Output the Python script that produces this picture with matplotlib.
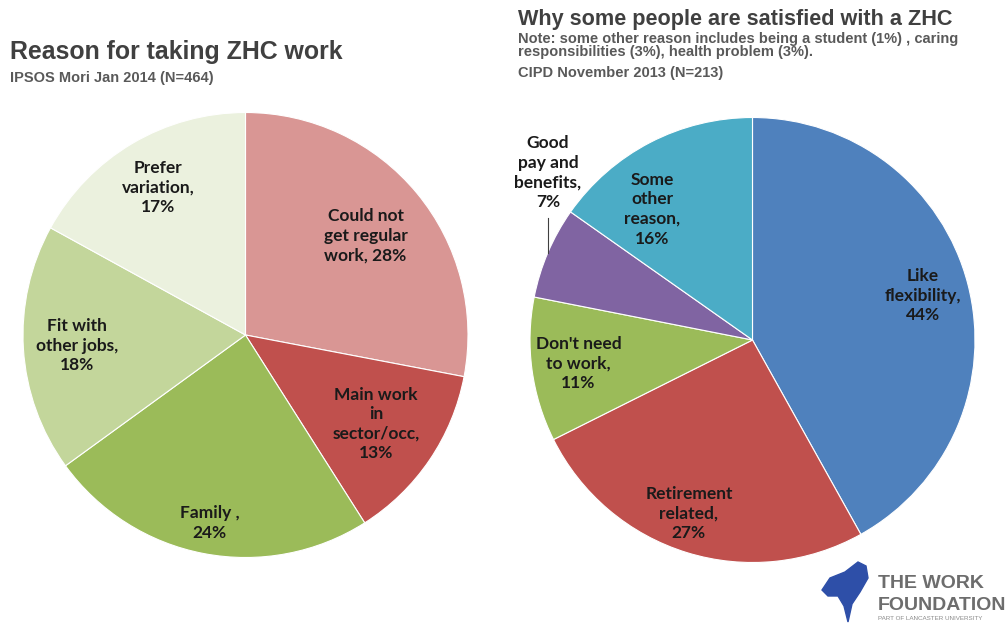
import numpy as np
import matplotlib.pyplot as plt
from matplotlib.patches import Polygon

W, H = 1008, 626

# left chart data (IPSOS Mori)
left_labels = ["Could not\nget regular\nwork, 28%", "Main work\nin\nsector/occ,\n13%", "Family ,\n24%",
               "Fit with\nother jobs,\n18%", "Prefer\nvariation,\n17%"]
left_values = [28, 13, 24, 18, 17]
left_colors = ["#D99694", "#C0504D", "#9BBB59", "#C3D69B", "#EBF1DE"]

# right chart data (CIPD)
right_labels = ["Like\nflexibility,\n44%", "Retirement\nrelated,\n27%", "Don't need\nto work,\n11%",
                "Good\npay and\nbenefits,\n7%", "Some\nother\nreason,\n16%"]
right_values = [44, 27, 11, 7, 16]
right_colors = ["#4F81BD", "#C0504D", "#9BBB59", "#8064A2", "#4BACC6"]

# label placement (radius fraction, angle shift in degrees)
left_dist = [0.70, 0.71, 0.86, 0.76, 0.77]
left_shift = [0, 0, 0, 0, 0]
right_dist = [0.79, 0.83, 0.79, None, 0.74]
right_shift = [0, -3, 0, 0, 10]

fig = plt.figure(figsize=(W / 100, H / 100), dpi=100)
fig.patch.set_facecolor("white")

lab_font = dict(family="Lato", fontweight="bold", fontsize=12.5, color="#1a1a1a",
                ha="center", va="center", linespacing=1.27)


def make_pie(cx, cy, r, values, colors, labels, dists, shifts):
    ax = fig.add_axes([(cx - r) / W, (H - cy - r) / H, 2 * r / W, 2 * r / H])
    wedges, _ = ax.pie(values, colors=colors, startangle=90, counterclock=False,
                       radius=1, wedgeprops=dict(edgecolor="white", linewidth=0.8))
    ax.set_xlim(-1, 1)
    ax.set_ylim(-1, 1)
    ax.axis("off")
    for w, lab, d, s in zip(wedges, labels, dists, shifts):
        mid = np.deg2rad((w.theta1 + w.theta2) / 2 + s)
        x, y = np.cos(mid), np.sin(mid)
        if d is None:
            # outside label with a short vertical leader line
            ax.plot([x, x], [y, y + 0.155], color="#404040", lw=0.8, clip_on=False)
            ax.text(x, y + 0.36, lab, clip_on=False, **lab_font)
        else:
            ax.text(x * d, y * d, lab, **lab_font)
    return ax


make_pie(245.5, 335, 222.5, left_values, left_colors, left_labels, left_dist, left_shift)
make_pie(752.5, 340, 222.5, right_values, right_colors, right_labels, right_dist, right_shift)

# titles
fig.text(10 / W, 1 - 52 / H, "Reason for taking ZHC work", family="Liberation Sans",
         fontweight="bold", fontsize=17.9, color="#404040", va="center")
fig.text(10 / W, 1 - 78 / H, "IPSOS Mori Jan 2014 (N=464)", family="Liberation Sans",
         fontweight="bold", fontsize=10.5, color="#595959", va="center")
fig.text(518 / W, 1 - 20 / H, "Why some people are satisfied with a ZHC", family="Liberation Sans",
         fontweight="bold", fontsize=15.6, color="#404040", va="center")
fig.text(518 / W, 1 - 45.5 / H,
         "Note: some other reason includes being a student (1%) , caring\n"
         "responsibilities (3%), health problem (3%).",
         family="Liberation Sans", fontweight="bold", fontsize=10.5, color="#595959",
         va="center", linespacing=0.95)
fig.text(518 / W, 1 - 73 / H, "CIPD November 2013 (N=213)", family="Liberation Sans",
         fontweight="bold", fontsize=10.5, color="#595959", va="center")

# logo
lax = fig.add_axes([0, 0, 1, 1], zorder=-1)
lax.set_xlim(0, W)
lax.set_ylim(H, 0)
lax.axis("off")
blob = [(822, 590), (830, 578), (845, 572), (858, 562), (866, 566), (868, 578), (860, 592),
        (852, 604), (848, 622), (844, 606), (838, 596), (828, 596)]
lax.add_patch(Polygon(blob, closed=True, color="#2E4FA8"))
lax.text(878, 583, "THE WORK", family="Liberation Sans", fontweight="bold", fontsize=14,
         color="#6d6d6d", va="center")
lax.text(878, 605, "FOUNDATION", family="Liberation Sans", fontweight="bold", fontsize=14,
         color="#6d6d6d", va="center")
lax.text(878, 619, "PART OF LANCASTER UNIVERSITY", family="Liberation Sans", fontsize=4.5,
         color="#8a8a8a", va="center")

fig.savefig("out.png", dpi=100, facecolor="white")
